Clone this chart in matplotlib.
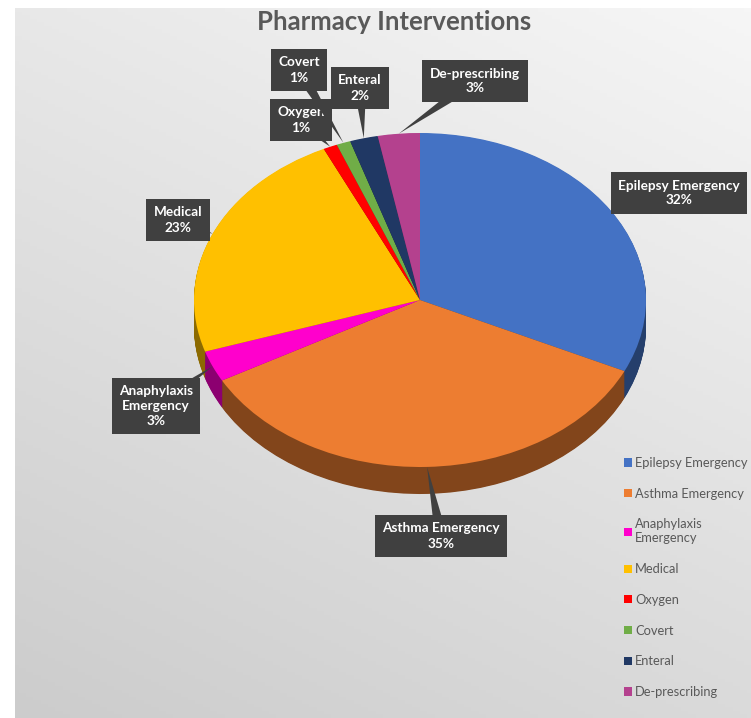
import numpy as np
import matplotlib.pyplot as plt
from matplotlib.colors import to_rgb

plt.rcParams['font.family'] = ['Lato', 'DejaVu Sans']

# data
categories = ['Epilepsy Emergency', 'Asthma Emergency', 'Anaphylaxis Emergency', 'Medical',
              'Oxygen', 'Covert', 'Enteral', 'De-prescribing']
legend_labels = ['Epilepsy Emergency', 'Asthma Emergency', 'Anaphylaxis\nEmergency', 'Medical',
                 'Oxygen', 'Covert', 'Enteral', 'De-prescribing']
box_labels = ['Epilepsy Emergency', 'Asthma Emergency', 'Anaphylaxis\nEmergency', 'Medical',
              'Oxygen', 'Covert', 'Enteral', 'De-prescribing']
values = [32, 35, 3, 23, 1, 1, 2, 3]
colors = ['#4472C4', '#ED7D31', '#FF00CC', '#FFC000', '#FF0000', '#70AD47', '#203864', '#B4418E']

# label box centres in pixels (layout)
box_pos = [(679, 193), (441, 536), (156, 406), (178, 220),
           (301, 120), (299, 70), (360, 88), (475, 81)]

W, H = 751, 718
cx, cy, rx, ry = 420, 300, 226, 167   # ellipse of the pie top face in pixels
depth = 27 / ry

fig = plt.figure(figsize=(W / 100, H / 100), dpi=100)

# background gradient
bg = fig.add_axes([0, 0, 1, 1], zorder=-1)
u, v = np.meshgrid(np.linspace(0, 1, 200), np.linspace(0, 1, 200))
g = (1 - u) * (1 - v) * 0.91 + u * (1 - v) * 0.965 + (1 - u) * v * 0.80 + u * v * 0.855
bg.imshow(np.dstack([g, g, g]), extent=(15, W, H, 8), aspect='auto')
bg.set_xlim(0, W)
bg.set_ylim(H, 0)
bg.axis('off')


def px2d(p):
    return ((p[0] - cx) / rx, (cy - p[1]) / ry)


ax = fig.add_axes([0, 0, 1, 1])

# side of the 3d pie: stacked darker copies
dark = [tuple(c * 0.55 for c in to_rgb(col)) for col in colors]
n = 40
for k in range(n, 0, -1):
    ax.pie(values, colors=dark, startangle=90, counterclock=False,
           center=(0, -depth * k / n), radius=1, wedgeprops=dict(linewidth=0))

wedges, _ = ax.pie(values, colors=colors, startangle=90, counterclock=False,
                   radius=1, wedgeprops=dict(linewidth=0))

ax.set_aspect('auto')
ax.set_xlim((0 - cx) / rx, (W - cx) / rx)
ax.set_ylim((cy - H) / ry, cy / ry)
ax.axis('off')

# data labels with callouts
for w, lab, val, pos in zip(wedges, box_labels, values, box_pos):
    th = np.deg2rad((w.theta1 + w.theta2) / 2)
    tip = (np.cos(th), np.sin(th))
    ax.annotate(f'{lab}\n{val}%', xy=tip, xytext=px2d(pos),
                ha='center', va='center', color='white', fontsize=9.8,
                fontweight='bold', linespacing=1.3,
                bbox=dict(boxstyle='square,pad=0.55', fc='#404040', ec='none'),
                arrowprops=dict(arrowstyle='wedge,tail_width=0.9,shrink_factor=0.5',
                                fc='#404040', ec='none', patchA=None,
                                shrinkA=0, shrinkB=0))

leg = ax.legend(wedges, legend_labels, loc='upper left',
                bbox_to_anchor=(624 / W, 1 - 457 / H), bbox_transform=fig.transFigure,
                frameon=False, fontsize=9.3, handlelength=0.6, handleheight=0.6,
                handletextpad=0.25, labelspacing=1.45, labelcolor='#595959',
                borderaxespad=0, borderpad=0)

fig.text(394 / W, 1 - 22 / H, 'Pharmacy Interventions', ha='center', va='center',
         fontsize=18.5, fontweight='bold', color='#595959')

fig.savefig('out.png', dpi=100)
